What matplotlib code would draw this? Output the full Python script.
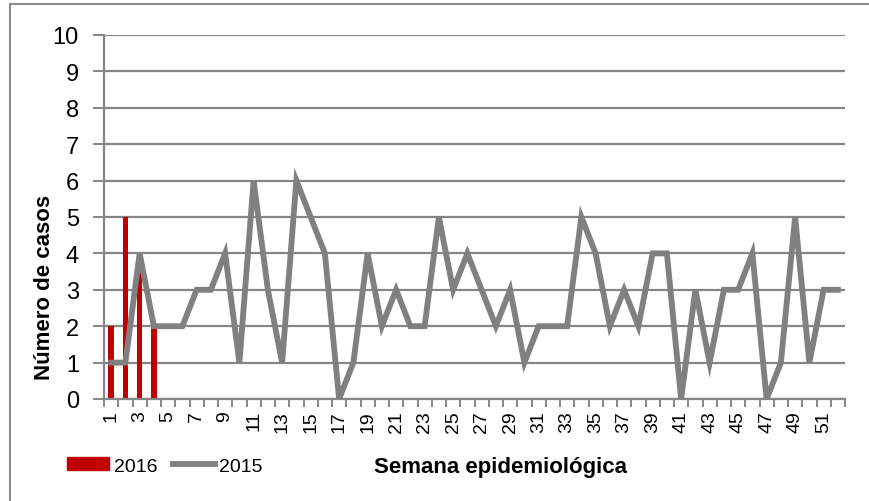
import matplotlib
matplotlib.use("Agg")
import matplotlib.pyplot as plt
from matplotlib.patches import Rectangle
from matplotlib.lines import Line2D
from matplotlib.patches import Patch
import numpy as np

weeks = list(range(1, 53))
cases_2015 = [1, 1, 4, 2, 2, 2, 3, 3, 4, 1, 6, 3, 1, 6, 5, 4, 0, 1, 4, 2,
              3, 2, 2, 5, 3, 4, 3, 2, 3, 1, 2, 2, 2, 5, 4, 2, 3, 2, 4, 4,
              0, 3, 1, 3, 3, 4, 0, 1, 5, 1, 3, 3]
weeks_2016 = [1, 2, 3, 4]
cases_2016 = [2, 5, 4, 2]
y_ticks = list(range(0, 11))

plt.rcParams['font.family'] = ['Liberation Sans', 'DejaVu Sans']

fig = plt.figure(figsize=(8.69, 5.02), dpi=100)
W, H = 869, 502
ax = fig.add_axes([104 / W, 1 - 400 / H, (845 - 104) / W, (400 - 36) / H])

grid_c = '#868686'
ax.bar(weeks_2016, cases_2016, width=0.38, color='#C00000', zorder=2)
ax.plot(weeks, cases_2015, color='#808080', lw=4.2, solid_joinstyle='miter', zorder=3)

ax.set_xlim(0.5, 52.5)
ax.set_ylim(0, 10)
ax.set_yticks(y_ticks)
ax.set_yticklabels([str(v) for v in y_ticks], fontsize=17)
ax.yaxis.grid(True, color=grid_c, lw=1.6, zorder=0)
ax.set_axisbelow(True)

ax.set_xticks(weeks[::2])
ax.set_xticklabels([str(w) for w in weeks[::2]], rotation=90, fontsize=14)
ax.set_xticks(np.arange(0.5, 53, 1.0), minor=True)
ax.tick_params(axis='x', which='major', length=0, pad=8)
ax.tick_params(axis='x', which='minor', length=6, width=1.4, color=grid_c)
ax.tick_params(axis='y', length=8, width=1.4, color=grid_c, pad=10)

for s in ['top', 'right']:
    ax.spines[s].set_visible(False)
for s in ['left', 'bottom']:
    ax.spines[s].set_color(grid_c)
    ax.spines[s].set_linewidth(1.6)

fig.text(45 / W, 1 - 287 / H, 'Número de casos', rotation=90, ha='center', va='center',
         fontsize=16, fontweight='bold')
fig.text(500 / W, 1 - 468 / H, 'Semana epidemiológica', ha='center', va='center',
         fontsize=16, fontweight='bold')

handles = [Patch(color='#C00000'), Line2D([0], [0], color='#808080', lw=4.2)]
leg = fig.legend(handles, ['2016', '2015'], loc='center left',
                 bbox_to_anchor=(67 / W, 1 - 467 / H), ncol=2, frameon=False,
                 fontsize=14, handlelength=2.15, handleheight=0.65,
                 handletextpad=0.25, columnspacing=0.8, borderaxespad=0,
                 borderpad=0)

fig.patches.append(Rectangle((10 / W, -0.1), 1.2, 1 - 5 / H + 0.1, transform=fig.transFigure,
                             fill=False, edgecolor='#8a8a8a', lw=1.5))

fig.savefig('out.png', dpi=100)
